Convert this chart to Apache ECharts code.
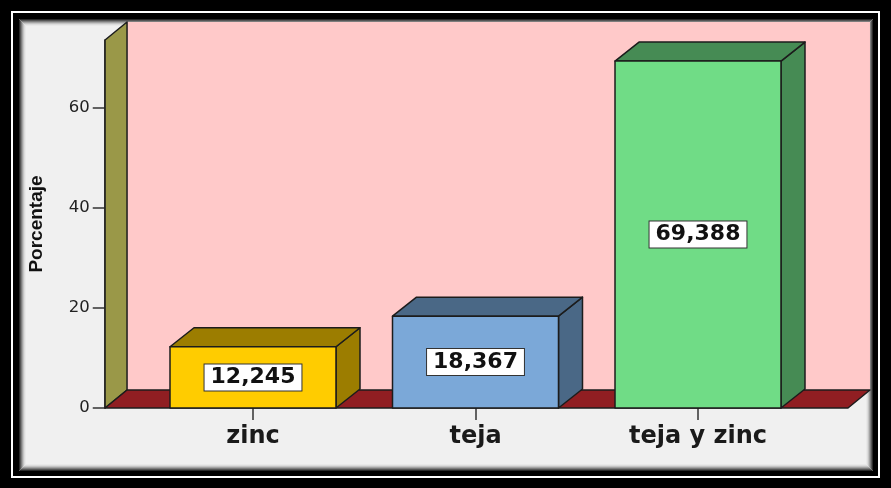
<!DOCTYPE html>
<html>
<head>
<meta charset="utf-8">
<script src="https://cdn.jsdelivr.net/npm/echarts@6/dist/echarts.min.js"></script>
<style>
html, body { margin: 0; padding: 0; background: #000; }
#chart { width: 891px; height: 488px; }
</style>
</head>
<body>
<div id="chart"></div>
<script>
// Roofing material, percentage of households
const categories = ['zinc', 'teja', 'teja y zinc'];
const percentages = [12.245, 18.367, 69.388];
const yTicks = [0, 20, 40, 60];
const yMax = 73.6;

const frontColors = ['#FFCC00', '#7BA8D8', '#70DC86'];
const shadeColors = ['#9C7D00', '#4A6886', '#468B54'];

const EDGE = { stroke: '#1c1c1c', lineWidth: 1.5, lineJoin: 'round' };

function fmtValue(v) {
  return v.toFixed(3).replace('.', ',');
}

// Back wall, left wall and floor of the 3D stage, sized from the axes
function renderStage(params, api) {
  const band = api.size([1, 0])[0];
  const p0 = api.coord([0, 0]);
  const pN = api.coord([categories.length - 1, 0]);
  const yTop = api.coord([0, yMax])[1];
  const xL = p0[0] - band * 0.665;
  const xR = pN[0] + band * 0.674;
  const y0 = p0[1];
  const dx = 22, dy = -18;
  return {
    type: 'group',
    children: [
      { type: 'rect', shape: { x: xL + dx, y: yTop + dy, width: xR - xL, height: y0 - yTop },
        style: { fill: '#FFC9C9' } },
      { type: 'polygon', shape: { points: [[xL, y0], [xL, yTop], [xL + dx, yTop + dy], [xL + dx, y0 + dy]] },
        style: Object.assign({ fill: '#9A9848' }, EDGE) },
      { type: 'polygon', shape: { points: [[xL, y0], [xR, y0], [xR + dx, y0 + dy], [xL + dx, y0 + dy]] },
        style: Object.assign({ fill: '#901E22' }, EDGE) }
    ]
  };
}

// One 3D bar: side, top, front face and a boxed value label
function renderBar(params, api) {
  const i = api.value(0);
  const v = api.value(1);
  const band = api.size([1, 0])[0];
  const bw = band * 0.746;
  const base = api.coord([i, 0]);
  const top = api.coord([i, v]);
  const x1 = base[0] - bw / 2, x2 = base[0] + bw / 2;
  const y0 = base[1], yv = top[1];
  const dx = 24, dy = -19;
  const front = frontColors[params.dataIndex];
  const shade = shadeColors[params.dataIndex];
  return {
    type: 'group',
    children: [
      { type: 'polygon', shape: { points: [[x2, y0], [x2, yv], [x2 + dx, yv + dy], [x2 + dx, y0 + dy]] },
        style: Object.assign({ fill: shade }, EDGE) },
      { type: 'polygon', shape: { points: [[x1, yv], [x2, yv], [x2 + dx, yv + dy], [x1 + dx, yv + dy]] },
        style: Object.assign({ fill: shade }, EDGE) },
      { type: 'rect', shape: { x: x1, y: yv, width: bw, height: y0 - yv },
        style: Object.assign({ fill: front }, EDGE) },
      { type: 'text', x: base[0], y: (y0 + yv) / 2,
        style: {
          text: fmtValue(v),
          font: 'bold 22px "DejaVu Sans"',
          fill: '#111',
          align: 'center',
          verticalAlign: 'middle',
          lineHeight: 22,
          backgroundColor: '#ffffff',
          borderColor: '#333333',
          borderWidth: 1,
          padding: [2, 6]
        } }
    ]
  };
}

// Frame: black mat, thin white line, grey panel with an inner shadow
const frame = [
  { type: 'rect', shape: { x: 0, y: 0, width: 891, height: 488 }, style: { fill: '#000' }, z: -10 },
  { type: 'rect', shape: { x: 12, y: 12, width: 867, height: 465 },
    style: { fill: 'none', stroke: '#ffffff', lineWidth: 2 }, z: -9 },
  { type: 'rect', shape: { x: 19, y: 19, width: 854, height: 452 }, style: { fill: '#F0F0F0' }, z: -8 }
];
['#2a2a2a', '#555', '#7d7d7d', '#a3a3a3', '#c4c4c4', '#dcdcdc', '#e9e9e9'].forEach(function (c, k) {
  frame.push({ type: 'rect', shape: { x: 19 + k + 0.5, y: 19 + k + 0.5, width: 853 - 2 * k, height: 451 - 2 * k },
    style: { fill: 'none', stroke: c, lineWidth: 1 }, z: -7 });
});

const chart = echarts.init(document.getElementById('chart'), null, { renderer: 'canvas' });
chart.setOption({
  animation: false,
  backgroundColor: 'transparent',
  graphic: { elements: frame },
  grid: { left: 141.75, right: 81.75, top: 40, bottom: 80 },
  xAxis: {
    type: 'category',
    data: categories,
    axisLine: { show: false },
    axisTick: { show: true, alignWithLabel: true, length: 12, lineStyle: { color: '#333', width: 1.5 } },
    axisLabel: { margin: 17, color: '#1a1a1a', fontFamily: 'DejaVu Sans', fontWeight: 'bold', fontSize: 24 },
    splitLine: { show: false }
  },
  yAxis: {
    type: 'value',
    min: 0,
    max: yMax,
    offset: 37,
    name: 'Porcentaje',
    nameLocation: 'middle',
    nameRotate: 90,
    nameGap: 58,
    nameTextStyle: { color: '#111', fontFamily: '"Liberation Sans", Arial, sans-serif', fontWeight: 'bold', fontSize: 19 },
    axisLine: { show: true, lineStyle: { color: '#222', width: 1.5 } },
    axisTick: { show: true, length: 12, customValues: yTicks, lineStyle: { color: '#333', width: 1.5 } },
    axisLabel: { customValues: yTicks, margin: 15, color: '#222', fontFamily: 'DejaVu Sans', fontSize: 16.5 },
    splitLine: { show: false }
  },
  series: [
    {
      type: 'custom',
      renderItem: renderStage,
      data: [[0, 0]],
      silent: true,
      z: 1
    },
    {
      type: 'custom',
      renderItem: renderBar,
      data: percentages.map(function (v, i) { return [i, v]; }),
      z: 3
    }
  ]
});
</script>
</body>
</html>
